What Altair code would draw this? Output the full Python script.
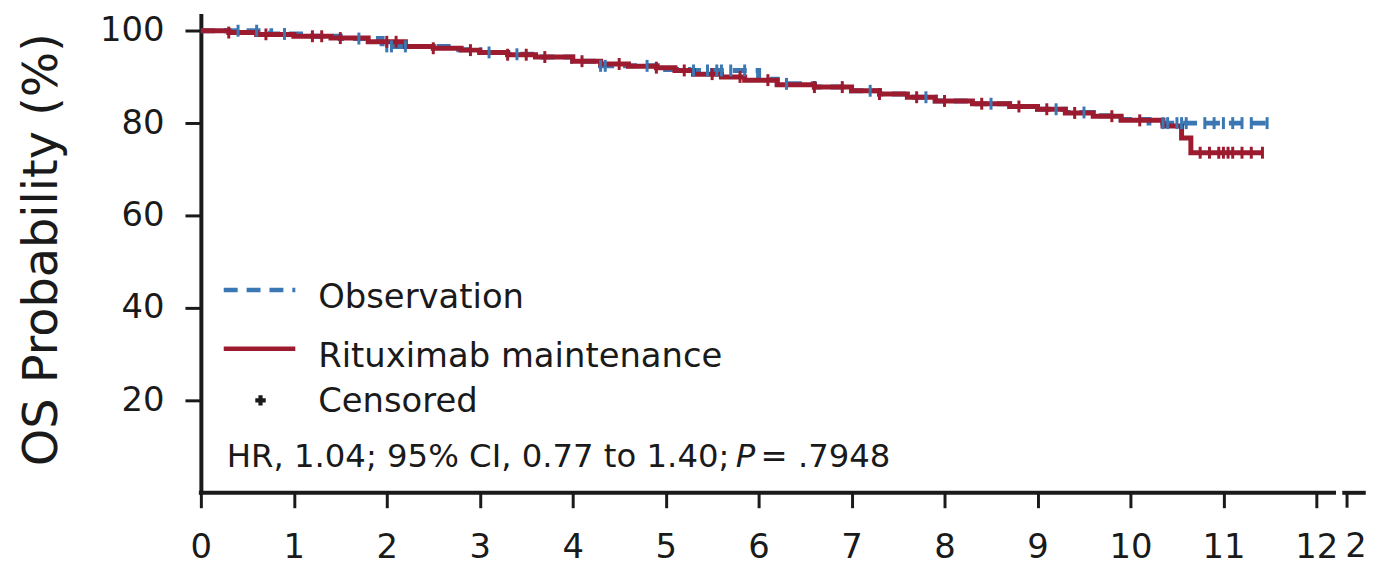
import altair as alt
import pandas as pd
from bisect import bisect_right

FONT = "DejaVu Sans"
INK = "#1a1a1a"
BLUE = "#3b77b2"
RED = "#9c1b2e"

# ---- Observation arm (step knots: time in years, OS %) ----
obs_t = [0, 0.75, 1.1, 1.5, 1.95, 2.7, 3.0, 3.3, 3.6, 4.0, 4.3, 5.0, 5.25,
         6.0, 6.2, 6.6, 7.0, 7.3, 7.6, 7.9, 8.3, 8.7, 9.0, 9.3, 9.6, 9.9, 10.2]
obs_s = [100, 99.3, 98.8, 98.3, 96.6, 95.9, 95.3, 94.9, 94.3, 93.4, 92.4, 91.6, 91.4,
         89.5, 88.5, 87.8, 87.0, 86.3, 85.6, 84.8, 84.2, 83.6, 83.0, 82.3, 81.6, 80.8, 80.0]
obs_end = 11.47
obs_cens = [0.4, 0.6, 0.9, 1.7, 2.0, 2.05, 2.2, 3.1, 3.4, 4.3, 4.35, 4.8, 5.3, 5.45,
            5.55, 5.6, 5.7, 5.85, 6.3, 7.2, 7.8, 8.5, 9.2, 9.5, 10.35, 10.4, 10.5,
            10.55, 10.6, 10.8, 10.9, 11.0, 11.1, 11.2, 11.3, 11.47]

# ---- Rituximab maintenance arm ----
rit_t = [0, 0.3, 0.6, 1.0, 1.4, 1.8, 2.2, 2.5, 2.8, 3.0, 3.3, 3.6, 4.0, 4.3, 4.6,
         4.9, 5.1, 5.3, 5.6, 5.85, 6.2, 6.6, 7.0, 7.3, 7.6, 7.9, 8.3, 8.7, 9.0,
         9.3, 9.6, 9.9, 10.35, 10.55, 10.65]
rit_s = [100, 99.6, 99.2, 98.8, 98.4, 97.6, 96.6, 96.2, 95.8, 95.3, 94.8, 94.3, 93.4,
         92.8, 92.3, 92.0, 91.4, 90.6, 90.0, 89.3, 88.3, 87.8, 87.0, 86.3, 85.6, 84.8,
         84.2, 83.6, 83.0, 82.2, 81.5, 80.6, 79.4, 76.8, 73.6]
rit_end = 11.42
rit_cens = [0.3, 0.7, 1.2, 1.3, 1.5, 2.0, 2.1, 2.5, 2.9, 3.3, 3.5, 3.7, 4.1, 4.5,
            4.9, 5.2, 5.5, 5.8, 6.1, 6.6, 6.9, 7.3, 7.7, 8.0, 8.4, 8.8, 9.1, 9.4,
            9.8, 10.1, 10.75, 10.85, 10.95, 11.0, 11.05, 11.1, 11.2, 11.3, 11.42]

x_ticks = [0, 1, 2, 3, 4, 5, 6, 7, 8, 9, 10, 11, 12]
y_ticks = [20, 40, 60, 80, 100]
break_tick = [12.33]
axis_segments_start = [0, 12.3]
axis_segments_end = [12.19, 12.51]


def step_frame(times, surv, end):
    return pd.DataFrame({"t": list(times) + [end], "s": list(surv) + [surv[-1]]})


def censor_frame(times, surv, cens):
    ys = [surv[bisect_right(times, c) - 1] for c in cens]
    return pd.DataFrame({"t": cens, "s": ys})


xs = alt.Scale(domain=[0, 12.513], nice=False, zero=False)
ys = alt.Scale(domain=[0, 103.7], nice=False, zero=False)

x_axis = alt.Axis(values=x_ticks, format="d", domain=False, grid=False, title=None,
                  labelFont=FONT, labelFontSize=34, labelColor=INK,
                  labelBaseline="alphabetic", labelPadding=50, labelFlush=False,
                  labelOverlap=False, labelBound=False,
                  tickSize=15, tickWidth=3, tickColor=INK)
y_axis = alt.Axis(values=y_ticks, grid=False, title="OS Probability (%)",
                  titleFont=FONT, titleFontSize=48, titleFontWeight="normal",
                  titleColor=INK, titleAngle=-90, titleX=-145, titleY=237,
                  titleAlign="center", titleBaseline="alphabetic",
                  labelFont=FONT, labelFontSize=34, labelColor=INK, labelPadding=21,
                  labelFlush=False, labelOverlap=False,
                  tickSize=16, tickWidth=3, tickColor=INK,
                  domainColor=INK, domainWidth=4)


def X(field):
    return alt.X(field, scale=xs, axis=x_axis)


def Y(field):
    return alt.Y(field, scale=ys, axis=y_axis)


obs_line = alt.Chart(step_frame(obs_t, obs_s, obs_end)).mark_line(
    interpolate="step-after", strokeWidth=5, strokeDash=[14, 9], color=BLUE
).encode(x=X("t:Q"), y=Y("s:Q"))

rit_line = alt.Chart(step_frame(rit_t, rit_s, rit_end)).mark_line(
    interpolate="step-after", strokeWidth=5, color=RED
).encode(x=X("t:Q"), y=Y("s:Q"))

obs_c = alt.Chart(censor_frame(obs_t, obs_s, obs_cens)).mark_tick(
    orient="vertical", size=12, thickness=3, color=BLUE, opacity=1
).encode(x=X("t:Q"), y=Y("s:Q"))

rit_c = alt.Chart(censor_frame(rit_t, rit_s, rit_cens)).mark_tick(
    orient="vertical", size=12, thickness=3, color=RED, opacity=1
).encode(x=X("t:Q"), y=Y("s:Q"))

axis_df = pd.DataFrame({"t": axis_segments_start, "t2": axis_segments_end, "s": [0, 0]})
axis_line = alt.Chart(axis_df).mark_rule(color=INK, strokeWidth=4, strokeCap="square").encode(
    x=X("t:Q"), x2="t2:Q", y=Y("s:Q"))

break_df = pd.DataFrame({"t": break_tick})
break_tick_mark = alt.Chart(break_df).mark_rule(color=INK, strokeWidth=3).encode(
    x=X("t:Q"), y=alt.value(482), y2=alt.value(497))

one = pd.DataFrame({"a": [0]})
leg_obs = alt.Chart(one).mark_rule(color=BLUE, strokeWidth=4.5, strokeDash=[14, 9]).encode(
    x=alt.value(23), x2=alt.value(95), y=alt.value(278))
leg_rit = alt.Chart(one).mark_rule(color=RED, strokeWidth=4.5).encode(
    x=alt.value(23), x2=alt.value(95), y=alt.value(337))
leg_cen = alt.Chart(one).mark_point(shape="cross", filled=True, size=110, color=INK, opacity=1).encode(
    x=alt.value(60), y=alt.value(389))


def label(text, x, y, size=34, style="normal", align="left"):
    return alt.Chart(one).mark_text(text=text, align=align, baseline="alphabetic", font=FONT,
                                    fontSize=size, fontStyle=style, color=INK).encode(
        x=alt.value(x), y=alt.value(y))


texts = [
    label("Observation", 118, 296),
    label("Rituximab maintenance", 118, 355),
    label("Censored", 118, 401),
    label("HR, 1.04; 95% CI, 0.77 to 1.40;", 26, 456, size=32.5),
    label("P", 538, 456, size=32.5, style="italic"),
    label("= .7948", 563, 456, size=32.5),
    label("2", 1162, 547, align="center"),
]

chart = alt.layer(obs_line, rit_line, obs_c, rit_c, axis_line, break_tick_mark,
                  leg_obs, leg_rit, leg_cen, *texts).properties(
    width=1170, height=482, autosize="none",
    padding={"left": 194, "top": 4, "right": 10, "bottom": 74}
).configure_view(stroke=None)

chart.save("out.html", embed_options={"renderer": "svg", "actions": False})
